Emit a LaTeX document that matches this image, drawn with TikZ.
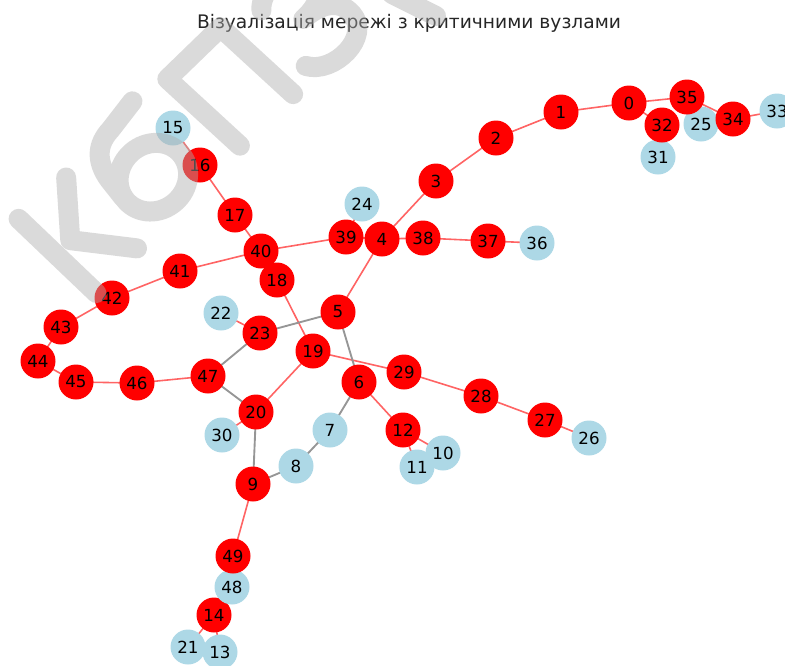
\documentclass[tikz,border=0pt]{standalone}
\usepackage{fontspec}
\setmainfont{DejaVu Sans}
\definecolor{nodered}{RGB}{255,0,0}
\definecolor{nodeblue}{RGB}{173,216,230}
\definecolor{edgered}{RGB}{255,100,100}
\definecolor{edgegray}{RGB}{150,150,150}
\definecolor{wmgray}{RGB}{173,173,173}
\pgfdeclarelayer{bg}
\pgfdeclarelayer{fg}
\pgfsetlayers{bg,main,fg}
\begin{document}
\begin{tikzpicture}[x=0.75pt,y=-0.75pt,
  vertex/.style={circle,inner sep=0pt,minimum size=26.25pt,draw=none,
    font=\fontsize{12.5}{14}\selectfont,text=black},
  crit/.style={vertex,fill=nodered},
  plain/.style={vertex,fill=nodeblue},
  redge/.style={draw=edgered,line width=1.2pt},
  gedge/.style={draw=edgegray,line width=1.4pt},
  wm/.style={draw=wmgray,line width=15pt,line cap=round,line join=round}]
\useasboundingbox (0,0) rectangle (785,665);

% title
\node[font=\fontsize{14}{16}\selectfont,text=black!85] (title) at (409,23)
  {Візуалізація мережі з критичними вузлами};

% vertices
\node[crit]  (n0)  at (629,103) {0};
\node[crit]  (n1)  at (561,112) {1};
\node[crit]  (n2)  at (496,138) {2};
\node[crit]  (n3)  at (436,181) {3};
\node[crit]  (n4)  at (382,239) {4};
\node[crit]  (n5)  at (338,312) {5};
\node[crit]  (n6)  at (359,382) {6};
\node[plain] (n7)  at (330,430) {7};
\node[plain] (n8)  at (296,466) {8};
\node[crit]  (n9)  at (253,484) {9};
\node[plain] (n10) at (443,453) {10};
\node[plain] (n11) at (417,467) {11};
\node[crit]  (n12) at (403,430) {12};
\node[plain] (n13) at (220,652) {13};
\node[crit]  (n14) at (214,615) {14};
\node[plain] (n15) at (173,128) {15};
\node[crit]  (n16) at (200,165) {16};
\node[crit]  (n17) at (235,215) {17};
\node[crit]  (n18) at (277,280) {18};
\node[crit]  (n19) at (313,351) {19};
\node[crit]  (n20) at (256,412) {20};
\node[plain] (n21) at (188,647) {21};
\node[plain] (n22) at (221,313) {22};
\node[crit]  (n23) at (260,333) {23};
\node[plain] (n24) at (362,204) {24};
\node[plain] (n25) at (701,124) {25};
\node[plain] (n26) at (589,438) {26};
\node[crit]  (n27) at (545,420) {27};
\node[crit]  (n28) at (481,396) {28};
\node[crit]  (n29) at (404,372) {29};
\node[plain] (n30) at (222,435) {30};
\node[plain] (n31) at (658,157) {31};
\node[crit]  (n32) at (662,125) {32};
\node[plain] (n33) at (777,111) {33};
\node[crit]  (n34) at (733,119) {34};
\node[crit]  (n35) at (687,97)  {35};
\node[plain] (n36) at (537,243) {36};
\node[crit]  (n37) at (488,241) {37};
\node[crit]  (n38) at (423,238) {38};
\node[crit]  (n39) at (346,237) {39};
\node[crit]  (n40) at (261,251) {40};
\node[crit]  (n41) at (180,271) {41};
\node[crit]  (n42) at (112,298) {42};
\node[crit]  (n43) at (61,327)  {43};
\node[crit]  (n44) at (38,361)  {44};
\node[crit]  (n45) at (76,382)  {45};
\node[crit]  (n46) at (137,383) {46};
\node[crit]  (n47) at (208,376) {47};
\node[plain] (n48) at (232,587) {48};
\node[crit]  (n49) at (233,556) {49};

% links, under the vertices
\begin{pgfonlayer}{bg}
\foreach \a/\b in {0/1,1/2,2/3,3/4,4/38,38/37,37/36,4/39,39/24,39/40,
  40/17,17/16,16/15,40/41,41/42,42/43,43/44,44/45,45/46,46/47,4/5,40/18,
  18/19,19/20,19/29,29/28,28/27,27/26,6/12,12/10,12/11,9/49,49/48,48/14,
  14/21,14/13,20/30,22/23,0/35,35/34,34/33,0/32,32/31,35/25}
  \draw[redge] (n\a.center) -- (n\b.center);
\foreach \a/\b in {5/23,23/47,47/20,20/9,9/8,8/7,7/6,6/5}
  \draw[gedge] (n\a.center) -- (n\b.center);
\end{pgfonlayer}

% watermark lettering, laid on top with partial opacity
\begin{pgfonlayer}{fg}
\begin{scope}[transparency group,opacity=0.45]
\begin{scope}[shift={(85,283)},x=0.75pt,y=0.75pt,rotate=41]
  % K
  \draw[wm] (2,-15) -- (-8,92);
  \draw[wm] (55,92) -- (17,42) -- (62,-8);
  % b
  \draw[wm] (121,35) ellipse[x radius=36,y radius=33];
  \draw[wm] (85,40) -- (86,62) .. controls (88,85) and (100,97) .. (120,99) -- (155,106);
  % P
  \draw[wm] (207,2) -- (196,100) -- (270,104) -- (281,6);
  % Z
  \draw[wm] (312,90) .. controls (325,108) and (372,110) .. (372,82)
     .. controls (372,62) and (355,56) .. (338,56)
     .. controls (360,56) and (378,48) .. (378,28)
     .. controls (378,-2) and (325,-6) .. (309,19);
\end{scope}
  % tip of the following letter at the top edge
  \draw[wm] (392,-6) -- (436,16);
\end{scope}
\end{pgfonlayer}
\end{tikzpicture}
\end{document}
